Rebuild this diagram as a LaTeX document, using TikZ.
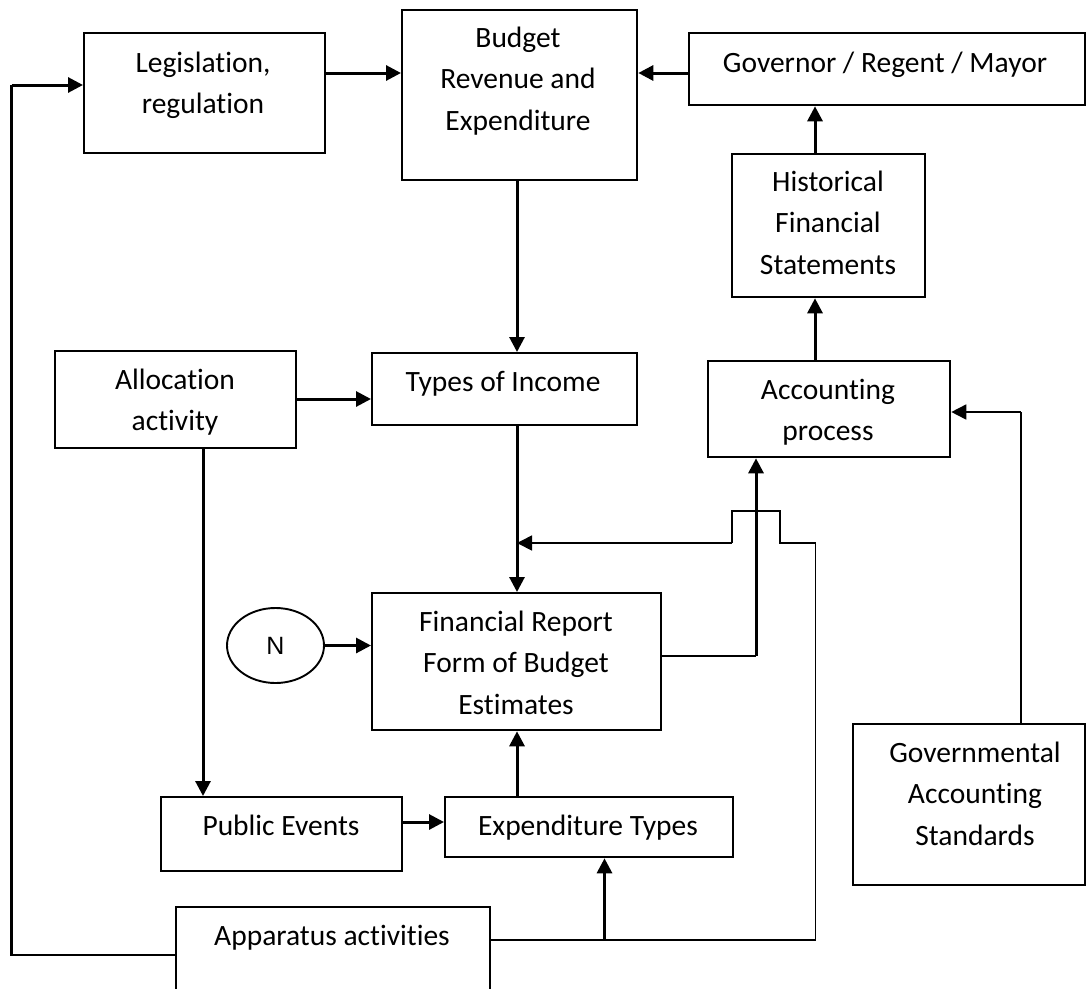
\documentclass[tikz,border=0pt]{standalone}
\usepackage{fontspec}
\setmainfont{Carlito}[Ligatures={NoCommon,NoContextual}]
\newfontfamily\nfont{Liberation Sans}
\usetikzlibrary{arrows.meta,shapes.geometric}
\tikzset{
  box/.style={draw, line width=2.3pt, inner sep=0pt, anchor=north west},
  txt/.style={anchor=base, inner sep=0pt, font=\fontsize{29.5}{41.5}\selectfont},
  arr/.style={line width=3pt, -{Triangle[length=15pt,width=15pt]}},
  mid line/.style={line width=2.4pt},
  thin line/.style={line width=1.7pt},
  thinarr/.style={line width=1.7pt, -{Triangle[length=15pt,width=15pt]}},
}
\newcommand{\mybox}[5]{\node[box, minimum width={#4-#2}, minimum height={#5-#3}] (#1) at (#2,#3) {};}
\newcommand{\lines}[1]{\begin{tabular}[t]{@{}c@{}}#1\end{tabular}}
\begin{document}
\begin{tikzpicture}[x=1pt,y=-1pt]
\useasboundingbox (0,0) rectangle (1086,988);
\clip (0,0) rectangle (1086,988);
% boxes
\mybox{leg}{83}{32}{324}{152}
\mybox{bud}{401}{9}{636}{179}
\mybox{gov}{688}{32}{1084}{104}
\mybox{hist}{731}{153}{924}{296}
\mybox{alloc}{54}{350}{295}{447}
\mybox{types}{371}{352}{636}{424}
\mybox{acc}{707}{360}{949}{456}
\mybox{fin}{371}{592}{660}{729}
\mybox{pe}{160}{796}{401}{870}
\mybox{exp}{444}{796}{732}{856}
\mybox{gas}{852}{723}{1084}{884}
\mybox{app}{175}{906}{489}{1010}
\node[draw, ellipse, line width=1.9pt, minimum width=97, minimum height=75, inner sep=0pt] (n) at (275.5,645.5) {\nfont\fontsize{25}{30}\selectfont N};
% texts
\node[txt] (tleg) at (203,72) {\lines{Legislation,\\regulation}};
\node[txt] (tbud) at (518,47) {\lines{Budget\\Revenue and\\Expenditure}};
\node[txt] (tgov) at (885,72) {Governor / Regent / Mayor};
\node[txt] (thist) at (828,191) {\lines{Historical\\Financial\\Statements}};
\node[txt] (talloc) at (175,389) {\lines{Allocation\\activity}};
\node[txt] (ttypes) at (503,391) {Types of Income};
\node[txt] (tacc) at (828,399) {\lines{Accounting\\process}};
\node[txt] (tfin) at (516,631) {\lines{Financial Report\\Form of Budget\\Estimates}};
\node[txt] (tpe) at (281,835) {Public Events};
\node[txt] (texp) at (588,835) {Expenditure Types};
\node[txt] (tgas) at (975,762) {\lines{Governmental\\Accounting\\Standards}};
\node[txt] (tapp) at (332,945) {Apparatus activities};
% helper coordinates
\coordinate (loopBot) at (11.5,955);
\coordinate (loopTop) at (11.5,85);
\coordinate (joinA) at (517,543);
\coordinate (joinB) at (604.5,940);
\coordinate (s1) at (815.6,940);
\coordinate (s2) at (815.6,543);
\coordinate (s3) at (780,543);
\coordinate (s4) at (780,511);
\coordinate (s5) at (732,511);
\coordinate (s6) at (732,543);
\coordinate (finCorner) at (756,656);
\coordinate (gasCorner) at (1021,412);
% connectors
\draw[mid line] (app.west |- loopBot) -- (loopBot) -- (loopTop);
\draw[arr] (loopTop) -- (leg.west |- loopTop);
\draw[arr] (leg.east |- 0,73) -- (bud.west |- 0,73);
\draw[arr] (gov.west |- 0,73) -- (bud.east |- 0,73);
\draw[arr] (517,0 |- bud.south) -- (517,0 |- types.north);
\draw[arr] (alloc.east |- 0,399) -- (types.west |- 0,399);
\draw[arr] (517,0 |- types.south) -- (517,0 |- fin.north);
\draw[thin line] (app.east |- s1) -- (s1) -- (s2) -- (s3) -- (s4) -- (s5) -- (s6);
\draw[thinarr] (s6) -- (joinA);
\draw[arr] (joinB) -- (joinB |- exp.south);
\draw[arr] (517,0 |- exp.north) -- (517,0 |- fin.south);
\draw[arr] (pe.east |- 0,822) -- (exp.west |- 0,822);
\draw[arr] (203,0 |- alloc.south) -- (203,0 |- pe.north);
\draw[arr] (n.east) -- (fin.west |- n.east);
\draw[mid line] (fin.east |- finCorner) -- (finCorner);
\draw[arr] (finCorner) -- (finCorner |- acc.south);
\draw[arr] (815,0 |- acc.north) -- (815,0 |- hist.south);
\draw[arr] (815,0 |- hist.north) -- (815,0 |- gov.south);
\draw[thin line] (gasCorner |- gas.north) -- (gasCorner);
\draw[thinarr] (gasCorner) -- (acc.east |- gasCorner);
\end{tikzpicture}
\end{document}
